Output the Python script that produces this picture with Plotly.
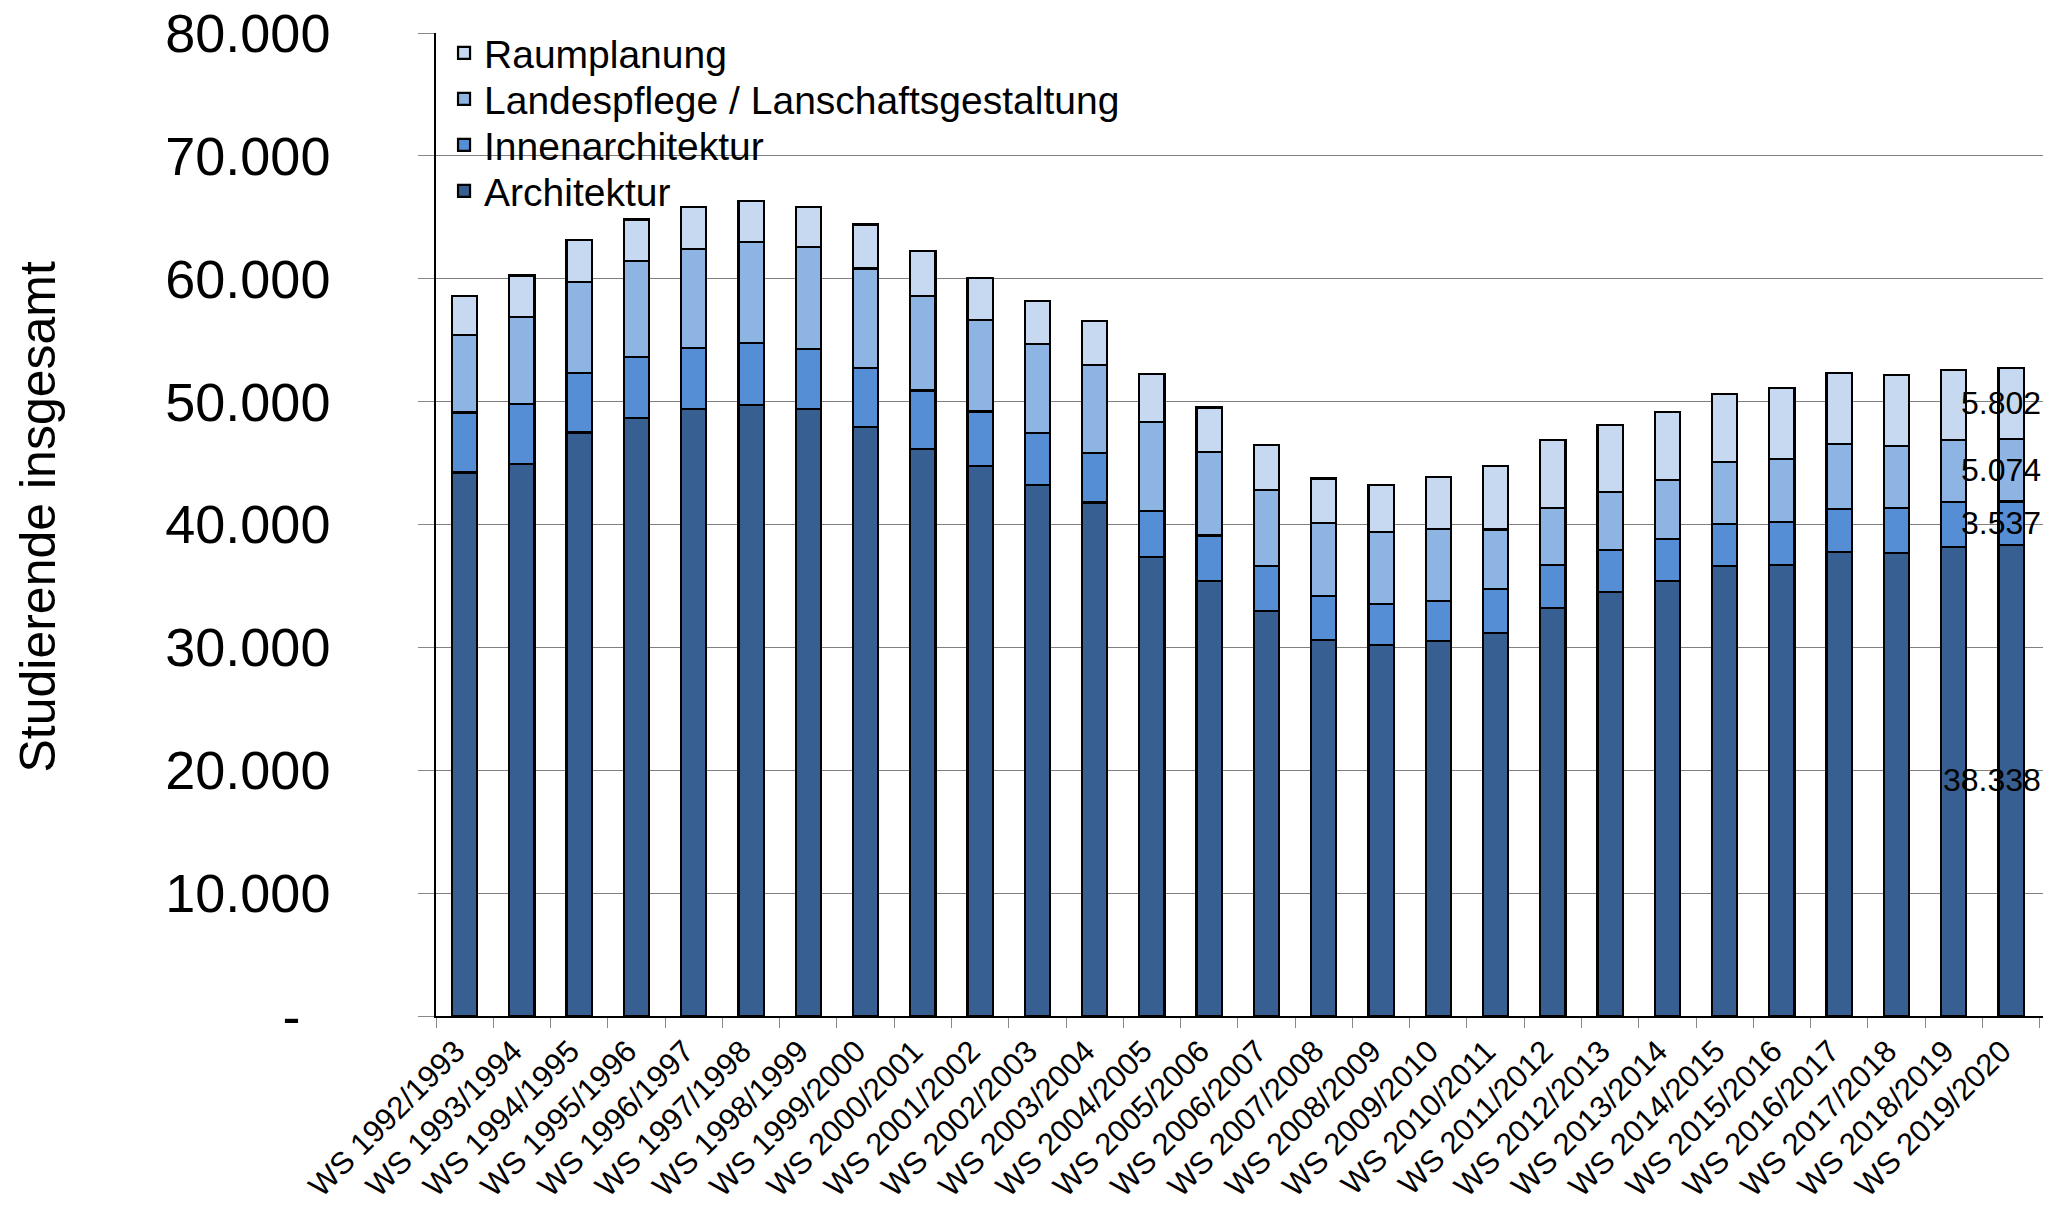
import plotly.graph_objects as go

categories = ["WS 1992/1993", "WS 1993/1994", "WS 1994/1995", "WS 1995/1996", "WS 1996/1997",
              "WS 1997/1998", "WS 1998/1999", "WS 1999/2000", "WS 2000/2001", "WS 2001/2002",
              "WS 2002/2003", "WS 2003/2004", "WS 2004/2005", "WS 2005/2006", "WS 2006/2007",
              "WS 2007/2008", "WS 2008/2009", "WS 2009/2010", "WS 2010/2011", "WS 2011/2012",
              "WS 2012/2013", "WS 2013/2014", "WS 2014/2015", "WS 2015/2016", "WS 2016/2017",
              "WS 2017/2018", "WS 2018/2019", "WS 2019/2020"]

architektur = [44230, 44900, 47480, 48700, 49380, 49700, 49380, 47940, 46130, 44770,
               43230, 41790, 37370, 35390, 32950, 30600, 30190, 30520, 31190, 33200,
               34530, 35390, 36610, 36720, 37750, 37700, 38180, 38338]
innenarchitektur = [4880, 4930, 4880, 4960, 4960, 5100, 4880, 4770, 4770, 4420,
                    4200, 4040, 3710, 3710, 3660, 3580, 3310, 3250, 3550, 3520,
                    3390, 3440, 3440, 3470, 3520, 3660, 3630, 3537]
landespflege = [6290, 7050, 7400, 7780, 8050, 8210, 8320, 8130, 7700, 7480,
                7290, 7130, 7260, 6830, 6210, 5960, 5910, 5880, 4850, 4630,
                4720, 4820, 5040, 5150, 5280, 5040, 5070, 5074]
raumplanung = [3200, 3390, 3390, 3390, 3470, 3310, 3250, 3580, 3690, 3360,
               3470, 3630, 3930, 3600, 3630, 3600, 3820, 4230, 5150, 5500,
               5450, 5500, 5560, 5750, 5750, 5770, 5720, 5802]

series_names = ["Architektur", "Innenarchitektur",
                "Landespflege / Lanschaftsgestaltung", "Raumplanung"]
series_values = [architektur, innenarchitektur, landespflege, raumplanung]
series_colors = ["#375F91", "#558ED5", "#8EB4E3", "#C6D9F1"]

y_ticks = [0, 10000, 20000, 30000, 40000, 50000, 60000, 70000, 80000]
y_title = "Studierende insgesamt"


def fmt(v):
    return f"{v:,}".replace(",", ".")


y_ticktext = ["-\u00a0\u00a0" if v == 0 else fmt(v) for v in y_ticks]

FONT = "Liberation Sans, Arial, Helvetica, sans-serif"

# one legend per series so that entry spacing can follow the reference
legend_ids = ["legend4", "legend3", "legend2", "legend"]
legend_y = [0.8393, 0.8861, 0.9329, 0.9797]

fig = go.Figure()
for name, vals, col, lg in zip(series_names, series_values, series_colors, legend_ids):
    fig.add_trace(go.Bar(
        x=categories, y=vals, name=name, legend=lg,
        marker=dict(color=col, line=dict(color="#000000", width=2.2)),
        hoverinfo="x+y+name",
    ))

# value labels for the last category
last = len(categories) - 1
base = 0
for vals in series_values:
    v = vals[last]
    fig.add_annotation(
        x=categories[last], y=base + v / 2, text=fmt(v),
        showarrow=False, xanchor="right", yanchor="middle", xshift=32,
        font=dict(family=FONT, size=32, color="#000000"),
    )
    base += v

# y-axis title
fig.add_annotation(
    xref="paper", yref="paper", x=-0.2477, y=0.508,
    text=y_title, textangle=-90, showarrow=False,
    xanchor="center", yanchor="middle",
    font=dict(family=FONT, size=50, color="#000000"),
)

legend_style = dict(
    x=0.005, xanchor="left", yanchor="middle",
    font=dict(family=FONT, size=39, color="#000000"),
    bgcolor="rgba(0,0,0,0)", borderwidth=0, itemwidth=30,
)

layout_legends = {}
for lg, ly in zip(legend_ids, legend_y):
    layout_legends[lg] = dict(legend_style, y=ly)

fig.update_layout(
    barmode="stack",
    bargap=0.56,
    width=2067, height=1206,
    margin=dict(l=436, r=24, t=33, b=190, pad=0, autoexpand=False),
    paper_bgcolor="#FFFFFF", plot_bgcolor="#FFFFFF",
    font=dict(family=FONT, color="#000000"),
    showlegend=True,
    xaxis=dict(
        type="category",
        automargin=False,
        tickangle=-45,
        tickfont=dict(family=FONT, size=31, color="#000000"),
        showline=True, linecolor="#000000", linewidth=1.5,
        ticks="outside", ticklen=10, tickcolor="#888888", tickwidth=1,
        tickson="boundaries",
        ticklabelshift=-9, ticklabelstandoff=3,
        showgrid=False, zeroline=False,
    ),
    yaxis=dict(
        automargin=False,
        range=[0, 80000],
        tickvals=y_ticks, ticktext=y_ticktext,
        tickfont=dict(family=FONT, size=54, color="#000000"),
        showline=True, linecolor="#000000", linewidth=1.5,
        ticks="outside", ticklen=16, tickcolor="#888888", tickwidth=1,
        ticklabelstandoff=77,
        showgrid=True, gridcolor="#808080", gridwidth=1,
        zeroline=False,
    ),
    **layout_legends,
)

fig.write_html(
    "out.html",
    config={"displayModeBar": False},
    post_script="document.body.style.margin='0';document.body.style.padding='0';",
)
